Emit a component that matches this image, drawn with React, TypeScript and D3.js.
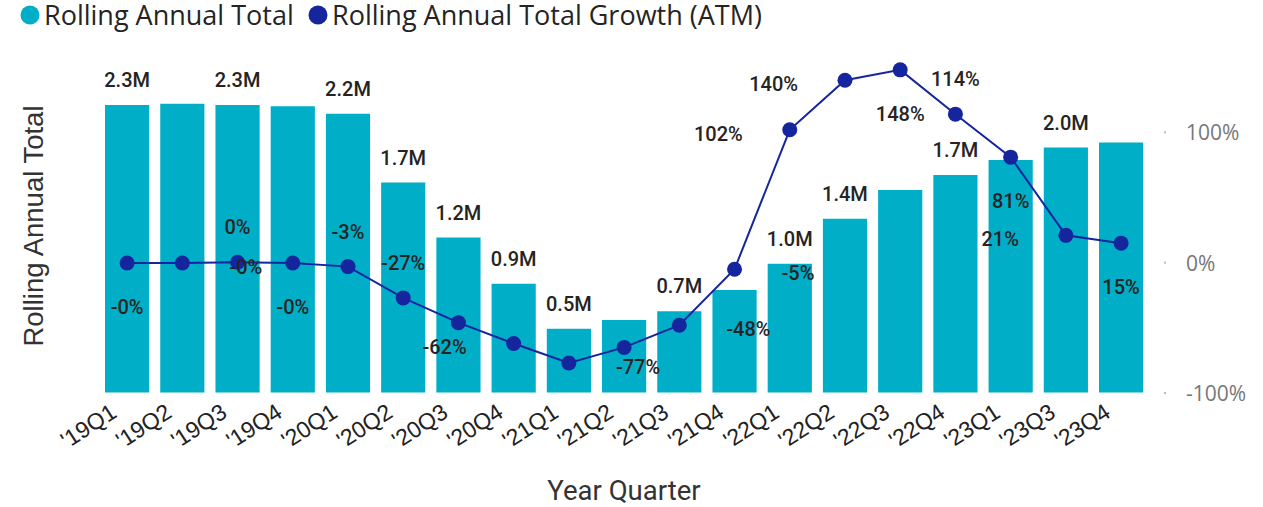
import React from "react";
import * as d3 from "d3";

const categories = ["'19Q1","'19Q2","'19Q3","'19Q4","'20Q1","'20Q2","'20Q3","'20Q4","'21Q1","'21Q2","'21Q3","'21Q4","'22Q1","'22Q2","'22Q3","'22Q4","'23Q1","'23Q3","'23Q4"];
// Rolling Annual Total, in millions
const rollingTotal = [2.30, 2.31, 2.30, 2.29, 2.23, 1.68, 1.24, 0.87, 0.51, 0.58, 0.65, 0.82, 1.03, 1.39, 1.62, 1.74, 1.86, 1.96, 2.00];
// Rolling Annual Total Growth (ATM), as fraction
const growth = [-0.002, -0.002, 0.003, -0.002, -0.03, -0.27, -0.46, -0.62, -0.77, -0.65, -0.48, -0.05, 1.02, 1.40, 1.48, 1.14, 0.81, 0.21, 0.15];
const rightTicks = [-1, 0, 1];
// which data labels are shown (as in the reference)
const barLabelShown = [true,false,true,false,true,true,true,true,true,false,true,false,true,true,false,true,false,true,false];
const lineLabelPlace = ["below","right","above","below","above","above","none","left","right","none","right","right","left","left","below","above","below","left","below"];

const BAR = "#00AEC7";
const LINE = "#15259E";
const LABEL_FONT = "Roboto, sans-serif";

const fmtPct = (v: number) => (v < 0 ? "-" : "") + Math.abs(Math.round(v * 100)) + "%";
const fmtM = (v: number) => v.toFixed(1) + "M";

export default function App() {
  const x = d3.scaleBand<string>().domain(categories).range([99.5, 1148.7]).paddingInner(0.2).paddingOuter(0.1);
  const yBar = d3.scaleLinear().domain([0, 2.7]).range([392.5, 392.5 - 2.7 * 125]);
  const yLine = d3.scaleLinear().domain([-1, 1]).range([393, 132.4]);
  const cx = (c: string) => (x(c) as number) + x.bandwidth() / 2;
  const line = d3.line<number>().x((_, i) => cx(categories[i])).y((d) => yLine(d));

  return (
    <svg width={1263} height={507} style={{ position: "absolute", left: 0, top: 0, background: "#fff" }}>
      {/* legend */}
      <g fontFamily="'Open Sans', sans-serif" fontSize={27} fill="#252423">
        <circle cx={30} cy={15} r={9.5} fill={BAR} />
        <text x={44} y={25}>Rolling Annual Total</text>
        <circle cx={318} cy={15} r={9.5} fill={LINE} />
        <text x={332} y={25}>Rolling Annual Total Growth (ATM)</text>
      </g>

      {/* bars */}
      {rollingTotal.map((v, i) => (
        <rect key={categories[i]} x={x(categories[i])} y={yBar(v)} width={x.bandwidth()} height={yBar(0) - yBar(v)} fill={BAR} />
      ))}

      {/* bar labels */}
      <g fontFamily={LABEL_FONT} fontSize={20} fontWeight={500} fill="#252423" textAnchor="middle">
        {rollingTotal.map((v, i) =>
          barLabelShown[i] ? (
            <text key={"bl" + i} x={cx(categories[i])} y={yBar(v) - 18}>{fmtM(v)}</text>
          ) : null
        )}
      </g>

      {/* line */}
      <path d={line(growth) || ""} fill="none" stroke={LINE} strokeWidth={2} />
      {growth.map((v, i) => (
        <circle key={"pt" + i} cx={cx(categories[i])} cy={yLine(v)} r={7.5} fill={LINE} />
      ))}

      {/* line labels */}
      <g fontFamily={LABEL_FONT} fontSize={20} fontWeight={500} fill="#252423">
        {growth.map((v, i) => {
          const p = lineLabelPlace[i];
          if (p === "none") return null;
          const px = cx(categories[i]);
          const py = yLine(v);
          let tx = px, ty = py, anchor = "middle";
          if (p === "above") { ty = py - 28; }
          else if (p === "below") { ty = py + 51; }
          else if (p === "right") { tx = px + 47; ty = py + 11; anchor = "start"; }
          else if (p === "left") { tx = px - 47; ty = py + 11; anchor = "end"; }
          return <text key={"ll" + i} x={tx} y={ty} textAnchor={anchor}>{fmtPct(v)}</text>;
        })}
      </g>

      {/* right axis */}
      <g fontFamily="'Open Sans', sans-serif" fontSize={21} fill="#777">
        {rightTicks.map((t) => (
          <g key={"rt" + t}>
            <rect x={1164} y={yLine(t) - 1} width={2} height={2} fill="#bbb" />
            <text x={1186} y={yLine(t) + 8}>{fmtPct(t)}</text>
          </g>
        ))}
      </g>

      {/* x tick labels */}
      <g fontFamily="'Liberation Sans', Arial, sans-serif" fontSize={23} fill="#222" textAnchor="end">
        {categories.map((c) => (
          <text key={"xt" + c} transform={`translate(${cx(c) - 9},${416}) rotate(-33)`}>{c}</text>
        ))}
      </g>

      {/* axis titles */}
      <text transform={`translate(43,226) rotate(-90)`} textAnchor="middle" fontFamily="'Liberation Sans', Arial, sans-serif" fontSize={27.5} fill="#333">Rolling Annual Total</text>
      <text x={624} y={500} textAnchor="middle" fontFamily={LABEL_FONT} fontSize={27.5} fill="#333">Year Quarter</text>
    </svg>
  );
}
